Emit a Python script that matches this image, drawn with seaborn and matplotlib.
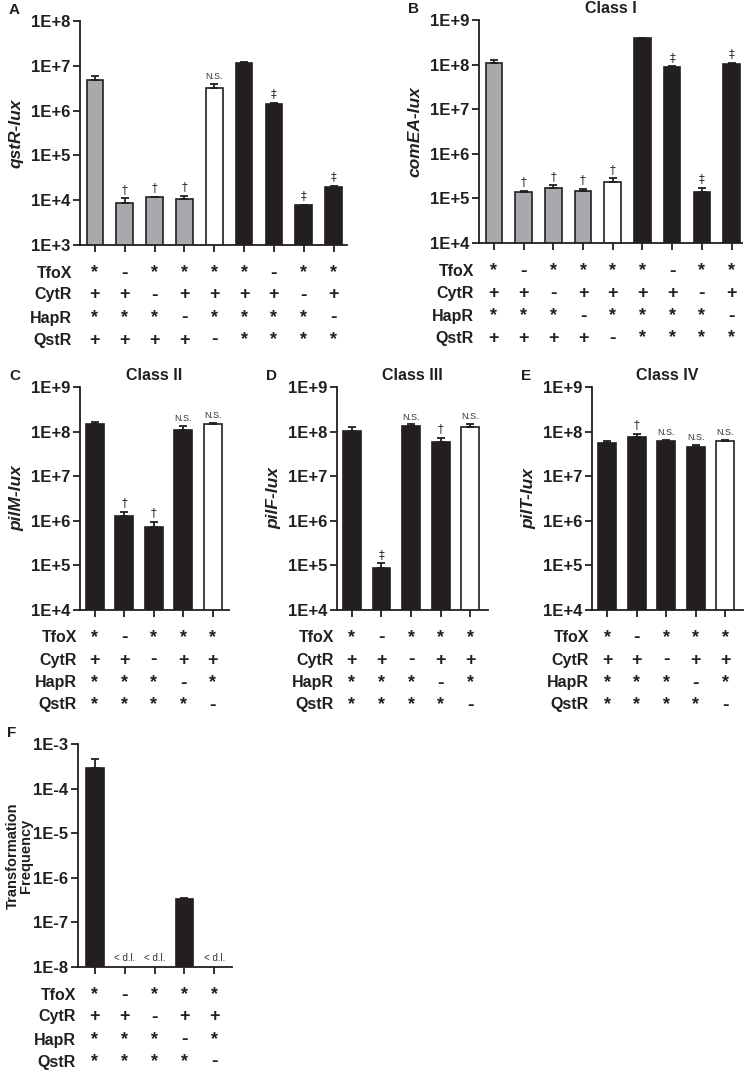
import numpy as np
import pandas as pd
import matplotlib
matplotlib.use("Agg")
import matplotlib.pyplot as plt
from matplotlib.ticker import FixedLocator, NullLocator
import seaborn as sns

# ---------------- data ----------------
cond9 = ["S1", "S2", "S3", "S4", "S5", "S6", "S7", "S8", "S9"]
cond5 = ["S1", "S2", "S3", "S4", "S5"]

qstR_mean = [4.8e6, 8.5e3, 1.15e4, 1.04e4, 3.2e6, 1.17e7, 1.39e6, 7.7e3, 1.93e4]
qstR_err = [1.0e6, 2.5e3, 5.0e2, 2.1e3, 7.0e5, 6.0e5, 1.1e5, 3.0e2, 1.7e3]
qstR_marks = ["", "†", "†", "†", "N.S.", "", "‡", "‡", "‡"]

comEA_mean = [1.07e8, 1.41e5, 1.67e5, 1.43e5, 2.28e5, 3.89e8, 8.87e7, 1.39e5, 1.03e8]
comEA_err = [1.8e7, 9.0e3, 2.9e4, 1.9e4, 5.2e4, 1.1e7, 2.0e6, 3.5e4, 7.0e6]
comEA_marks = ["", "†", "†", "†", "†", "", "‡", "‡", "‡"]

pilM_mean = [1.5e8, 1.28e6, 7.4e5, 1.09e8, 1.46e8]
pilM_err = [1.5e7, 3.2e5, 2.1e5, 2.7e7, 9.0e6]
pilM_marks = ["", "†", "†", "N.S.", "N.S."]

pilF_mean = [1.05e8, 8.75e4, 1.34e8, 5.76e7, 1.29e8]
pilF_err = [2.0e7, 2.35e4, 1.1e7, 1.54e7, 2.1e7]
pilF_marks = ["", "‡", "N.S.", "†", "N.S."]

pilT_mean = [5.47e7, 7.47e7, 6.3e7, 4.6e7, 6.0e7]
pilT_err = [7.0e6, 1.23e7, 3.0e6, 4.0e6, 6.0e6]
pilT_marks = ["", "†", "N.S.", "N.S.", "N.S."]

tf_mean = [2.95e-4, np.nan, np.nan, 3.3e-7, np.nan]
tf_err = [1.65e-4, np.nan, np.nan, 0.3e-7, np.nan]
tf_marks = ["", "< d.l.", "< d.l.", "", "< d.l."]

row_names = ["TfoX", "CytR", "HapR", "QstR"]
table9 = [
    ["*", "-", "*", "*", "*", "*", "-", "*", "*"],
    ["+", "+", "-", "+", "+", "+", "+", "-", "+"],
    ["*", "*", "*", "-", "*", "*", "*", "*", "-"],
    ["+", "+", "+", "+", "-", "*", "*", "*", "*"],
]
table5 = [
    ["*", "-", "*", "*", "*"],
    ["+", "+", "-", "+", "+"],
    ["*", "*", "*", "-", "*"],
    ["*", "*", "*", "*", "-"],
]

GRAY = "#a7a9ac"
DARK = "#231f20"
WHITE = "#ffffff"
colors9 = [GRAY] * 4 + [WHITE] + [DARK] * 4
colors5 = [DARK] * 4 + [WHITE]

# ---------------- style ----------------
sns.set_theme(style="ticks")
plt.rcParams["font.family"] = ["Liberation Sans", "DejaVu Sans"]
plt.rcParams["axes.linewidth"] = 1.3

fig = plt.figure(figsize=(7.48, 10.70), dpi=100)
W, H = 748.0, 1070.0


def make_ax(left, right, top, bottom):
    return fig.add_axes([left / W, 1 - bottom / H, (right - left) / W, (bottom - top) / H])


ROW_OFF = [28, 50, 73, 95]


def panel(ax, cats, vals, errs, colors, marks, dec_lo, dec_hi, ylabel, table,
          xlim, width, title=None, letter=None, ylab_style="italic", label_dx=-6,
          ylab_size=12.5, ylab_pad=5):
    df = pd.DataFrame({"cond": cats, "val": vals})
    ax.set_yscale("log")
    sns.barplot(data=df, x="cond", y="val", order=cats, hue="cond", hue_order=cats,
                palette=dict(zip(cats, colors)), legend=False, width=width,
                edgecolor=DARK, linewidth=1.2, errorbar=None, ax=ax, saturation=1)
    x = np.arange(len(cats))
    v = np.array(vals, dtype=float)
    e = np.array(errs, dtype=float)
    ax.errorbar(x, v, yerr=[np.zeros_like(e), e], fmt="none", ecolor=DARK,
                elinewidth=1.3, capsize=3.2, capthick=1.3, zorder=3)
    ax.set_ylim(10.0 ** dec_lo, 10.0 ** dec_hi)
    ax.set_xlim(*xlim)
    decs = list(range(dec_lo, dec_hi + 1))
    ax.yaxis.set_major_locator(FixedLocator([10.0 ** d for d in decs]))
    ax.yaxis.set_minor_locator(NullLocator())
    ax.set_yticklabels([f"1E{d:+d}" for d in decs], fontweight="bold", fontsize=12,
                       color=DARK)
    ax.set_xticks(x)
    ax.set_xticklabels([])
    ax.set_xlabel("")
    ax.tick_params(axis="both", direction="out", length=5, width=1.3, color=DARK, pad=2)
    for s in ("top", "right"):
        ax.spines[s].set_visible(False)
    for s in ("left", "bottom"):
        ax.spines[s].set_color(DARK)
    ax.set_ylabel(ylabel, fontweight="bold", fontstyle=ylab_style, fontsize=ylab_size,
                  color=DARK, labelpad=ylab_pad, linespacing=0.95)
    # significance marks
    for i, m in enumerate(marks):
        if not m:
            continue
        if np.isnan(v[i]):
            ax.annotate(m, xy=(i, 0), xycoords=("data", "axes fraction"), xytext=(0, 3),
                        textcoords="offset points", ha="center", va="bottom",
                        fontsize=7, color="#333333")
        else:
            fs = 6.5 if m == "N.S." else 8.5
            ax.annotate(m, xy=(i, v[i] + e[i]), xytext=(0, 2), textcoords="offset points",
                        ha="center", va="bottom", fontsize=fs, color="#333333",
                        family=["DejaVu Sans"] if m != "N.S." else None)
    # genotype table
    for r, name in enumerate(row_names):
        ax.annotate(name, xy=(0, 0), xycoords="axes fraction",
                    xytext=(label_dx, -ROW_OFF[r]), textcoords="offset pixels",
                    ha="right", va="center", fontweight="bold", fontsize=11.5, color=DARK)
        for i, sym in enumerate(table[r]):
            ax.annotate(sym, xy=(i, 0), xycoords=("data", "axes fraction"),
                        xytext=(0, -ROW_OFF[r]), textcoords="offset pixels",
                        ha="center", va="center", fontweight="bold",
                        fontsize=14 if sym == "-" else 13, color=DARK)
    if title:
        ax.set_title(title, fontweight="bold", fontsize=11.5, color=DARK, pad=5)
    if letter:
        ax.annotate(letter, xy=(0, 1), xycoords="axes fraction", xytext=(-71, 4),
                    textcoords="offset pixels", fontweight="bold", fontsize=11,
                    color=DARK, ha="left", va="bottom")


axA = make_ax(80, 347, 21, 245)
panel(axA, cond9, qstR_mean, qstR_err, colors9, qstR_marks, 3, 8, "qstR-lux", table9,
      (-0.5, 8.45), 0.56, letter="A", label_dx=-8)

axB = make_ax(479, 742, 20, 243)
panel(axB, cond9, comEA_mean, comEA_err, colors9, comEA_marks, 4, 9, "comEA-lux", table9,
      (-0.5, 8.35), 0.56, title="Class I", letter="B", label_dx=-5)

axC = make_ax(80, 229, 387, 610)
panel(axC, cond5, pilM_mean, pilM_err, colors5, pilM_marks, 4, 9, "pilM-lux", table5,
      (-0.5, 4.55), 0.6, title="Class II", letter="C", label_dx=-3)

axD = make_ax(337, 488, 387, 610)
panel(axD, cond5, pilF_mean, pilF_err, colors5, pilF_marks, 4, 9, "pilF-lux", table5,
      (-0.5, 4.6), 0.6, title="Class III", letter="D", label_dx=-3)

axE = make_ax(592, 743, 387, 610)
panel(axE, cond5, pilT_mean, pilT_err, colors5, pilT_marks, 4, 9, "pilT-lux", table5,
      (-0.52, 4.6), 0.6, title="Class IV", letter="E", label_dx=-3)

axF = make_ax(78, 232, 744, 967)
panel(axF, cond5, tf_mean, tf_err, colors5, tf_marks, -8, -3, "Transformation\nFrequency",
      table5, (-0.57, 4.6), 0.58, letter="F", ylab_style="normal", label_dx=-2,
      ylab_size=10.5, ylab_pad=0)

fig.savefig("out.png", dpi=100)
